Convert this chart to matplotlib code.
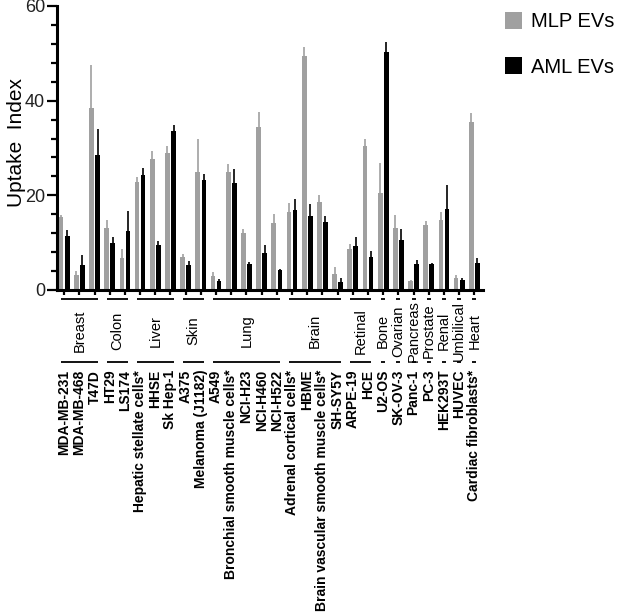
import matplotlib
matplotlib.use("Agg")
import matplotlib.pyplot as plt
import matplotlib.transforms as mtransforms
from matplotlib.patches import Patch
from matplotlib.ticker import MultipleLocator
import numpy as np

plt.rcParams['font.family'] = ['Liberation Sans', 'DejaVu Sans']

cells = ["MDA-MB-231", "MDA-MB-468", "T47D", "HT29", "LS174",
         "Hepatic stellate cells*", "HHSE", "Sk Hep-1", "A375", "Melanoma (J1182)",
         "A549", "Bronchial smooth muscle cells*", "NCI-H23", "NCI-H460", "NCI-H522",
         "Adrenal cortical cells*", "HBME", "Brain vascular smooth muscle cells*", "SH-SY5Y",
         "ARPE-19", "HCE", "U2-OS", "SK-OV-3", "Panc-1", "PC-3", "HEK293T", "HUVEC",
         "Cardiac fibroblasts*"]
group_names = ["Breast", "Colon", "Liver", "Skin", "Lung", "Brain", "Retinal", "Bone",
               "Ovarian", "Pancreas", "Prostate", "Renal", "Umbilical", "Heart"]
group_sizes = [3, 2, 3, 2, 5, 4, 2, 1, 1, 1, 1, 1, 1, 1]

mlp = [15.5, 3.1, 38.4, 13.0, 6.8, 22.9, 27.7, 28.9, 6.9, 24.9, 2.9, 24.9, 12.1, 34.4,
       14.2, 16.5, 49.4, 18.6, 3.4, 8.7, 30.4, 20.5, 13.2, 2.0, 13.7, 14.8, 2.5, 35.5]
mlp_err = [0.3, 1.0, 9.1, 1.8, 1.8, 1.0, 1.6, 1.6, 0.8, 6.9, 0.8, 1.8, 0.7, 3.2,
           1.8, 1.8, 2.0, 1.5, 1.4, 1.1, 1.5, 6.4, 2.6, 0.2, 0.8, 1.6, 0.6, 1.8]
aml = [11.4, 5.2, 28.6, 10.0, 12.5, 24.4, 9.5, 33.5, 5.3, 23.2, 2.0, 22.7, 5.5, 7.9,
       4.2, 16.8, 15.6, 14.4, 1.7, 9.2, 7.0, 50.3, 10.6, 5.5, 5.4, 17.2, 2.2, 5.8]
aml_err = [1.3, 2.2, 5.4, 1.1, 4.2, 1.4, 0.9, 1.3, 0.8, 1.4, 0.3, 2.8, 0.4, 1.7,
           0.2, 2.4, 2.5, 1.2, 0.8, 2.0, 1.3, 2.0, 2.3, 0.8, 0.2, 4.9, 0.4, 0.9]

series_labels = ["MLP EVs", "AML EVs"]
gray = "#A0A0A0"
black = "#000000"

W, H = 620, 616
fig = plt.figure(figsize=(W / 100, H / 100), dpi=100)
ax = fig.add_axes([57 / W, 1 - 290 / H, 426 / W, 284 / H])

x = np.arange(len(cells))
bw = 0.31
off = 0.2
ax.bar(x - off, mlp, bw, color=gray, yerr=[np.zeros(len(mlp)), mlp_err],
       error_kw=dict(ecolor=gray, elinewidth=1.2, capsize=0), zorder=2)
ax.bar(x + off, aml, bw, color=black, yerr=[np.zeros(len(aml)), aml_err],
       error_kw=dict(ecolor=black, elinewidth=1.2, capsize=0), zorder=2)

ax.set_xlim(-0.47, len(cells) - 1 + 0.57)
ax.set_ylim(0, 60)
ax.yaxis.set_major_locator(MultipleLocator(20))
ax.yaxis.set_minor_locator(MultipleLocator(4))
ax.tick_params(axis='y', which='major', length=7.5, width=1.6, labelsize=13,
               pad=1, labelcolor='#222222')
ax.tick_params(axis='y', which='minor', length=4, width=1.6)
ax.set_xticks(x)
ax.set_xticklabels(cells, rotation=90, fontsize=10, fontweight='bold', va='top')
ax.tick_params(axis='x', length=3.5, width=1.6, pad=54)

for s in ['top', 'right']:
    ax.spines[s].set_visible(False)
for s in ['left', 'bottom']:
    ax.spines[s].set_linewidth(2.2)

ax.set_ylabel("Uptake  Index", fontsize=15)
ax.yaxis.set_label_coords(-(57 - 26) / 426, 0.52)

trans = mtransforms.blended_transform_factory(ax.transData, ax.transAxes)
start = 0
y_top = -(299 - 290) / 284
y_bot = -(362 - 290) / 284
y_txt = -(331 - 290) / 284
for name, n in zip(group_names, group_sizes):
    first = start
    last = start + n - 1
    if n == 1:
        a, b = first - 0.13, last + 0.13
    else:
        a, b = first - 0.2, last + 0.2
    for yy in (y_top, y_bot):
        ax.plot([a, b], [yy, yy], color='black', lw=1.3, transform=trans,
                clip_on=False, solid_capstyle='butt')
    ax.text((first + last) / 2, y_txt, name, rotation=90, ha='center', va='center',
            fontsize=10.5, transform=trans)
    start += n

handles = [Patch(facecolor=gray, edgecolor='none'), Patch(facecolor=black, edgecolor='none')]
fig.legend(handles, series_labels, loc='upper left',
           bbox_to_anchor=(505 / W, 1 - 12 / H), frameon=False, fontsize=14.5,
           borderpad=0, borderaxespad=0,
           handlelength=0.85, handleheight=0.9, handletextpad=0.45, labelspacing=1.3)

fig.savefig("out.png", dpi=100)
